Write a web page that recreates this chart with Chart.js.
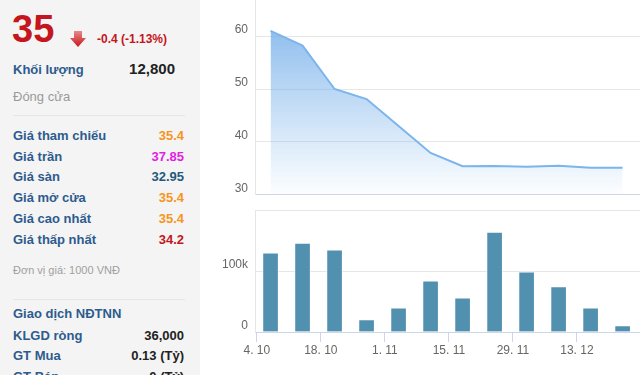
<!DOCTYPE html>
<html>
<head>
<meta charset="utf-8">
<script src="https://cdn.jsdelivr.net/npm/chart.js@4/dist/chart.umd.min.js"></script>
<style>
  html, body { margin: 0; padding: 0; }
  body { width: 640px; height: 375px; overflow: hidden; position: relative; background: #fff; font-family: "Liberation Sans", Arial, sans-serif; }
  #panel { position: absolute; left: 0; top: 0; width: 200px; height: 375px; background: #f4f4f4; }
  .t { position: absolute; white-space: nowrap; line-height: 16px; }
  .lbl { left: 13px; font-size: 13px; font-weight: bold; color: #2d5b8e; }
  .val { right: 16px; font-size: 13px; font-weight: bold; text-align: right; }
  .sep { position: absolute; left: 13px; width: 172px; height: 1px; background: #e6e6e6; }
  #cwrap1 { position: absolute; left: 200px; top: -31px; width: 440px; height: 240px; }
  #cwrap2 { position: absolute; left: 200px; top: 196px; width: 440px; height: 179px; }
</style>
</head>
<body>
<div id="panel">
  <div class="t" style="left:12px;top:10px;font-size:38px;line-height:38px;font-weight:bold;color:#c4161c;">35</div>
  <svg style="position:absolute;left:69px;top:30px" width="18" height="18" viewBox="0 0 18 18">
    <defs><linearGradient id="ag" x1="0" y1="0" x2="0" y2="1"><stop offset="0" stop-color="#e8888a"/><stop offset="1" stop-color="#c8151b"/></linearGradient></defs>
    <polygon points="5,1 13,1 13,8 17,8 9,17 1,8 5,8" fill="url(#ag)"/>
  </svg>
  <div class="t" style="left:97px;top:31px;font-size:12px;font-weight:bold;color:#c4161c;">-0.4 (-1.13%)</div>

  <div class="t lbl" style="top:62px;">Khối lượng</div>
  <div class="t" style="right:25px;top:61px;font-size:15px;font-weight:bold;color:#222;">12,800</div>
  <div class="t" style="left:13px;top:89px;font-size:13px;color:#9a9a9a;">Đóng cửa</div>
  <div class="sep" style="top:115px;"></div>

  <div class="t lbl" style="top:128px;">Giá tham chiếu</div>
  <div class="t val" style="top:128px;color:#f7941d;">35.4</div>
  <div class="t lbl" style="top:149px;">Giá trần</div>
  <div class="t val" style="top:149px;color:#e31ee3;">37.85</div>
  <div class="t lbl" style="top:169px;">Giá sàn</div>
  <div class="t val" style="top:169px;color:#1d5a7d;">32.95</div>
  <div class="t lbl" style="top:190px;">Giá mở cửa</div>
  <div class="t val" style="top:190px;color:#f7941d;">35.4</div>
  <div class="t lbl" style="top:211px;">Giá cao nhất</div>
  <div class="t val" style="top:211px;color:#f7941d;">35.4</div>
  <div class="t lbl" style="top:232px;">Giá thấp nhất</div>
  <div class="t val" style="top:232px;color:#c4161c;">34.2</div>
  <div class="t" style="left:13px;top:262px;font-size:11px;color:#a0a0a0;">Đơn vị giá: 1000 VNĐ</div>
  <div class="sep" style="top:299px;"></div>

  <div class="t lbl" style="top:306px;">Giao dịch NĐTNN</div>
  <div class="t lbl" style="top:328px;">KLGD ròng</div>
  <div class="t val" style="top:328px;color:#222;">36,000</div>
  <div class="t lbl" style="top:348px;">GT Mua</div>
  <div class="t val" style="top:348px;color:#222;">0.13 (Tỷ)</div>
  <div class="t lbl" style="top:369px;">GT Bán</div>
  <div class="t val" style="top:369px;color:#222;">0 (Tỷ)</div>
</div>

<div id="cwrap1"><canvas id="c1" width="440" height="240"></canvas></div>
<div id="cwrap2"><canvas id="c2" width="440" height="179"></canvas></div>

<script>
// ---- data ----
const dates = ['7/10','14/10','21/10','28/10','4/11','11/11','18/11','25/11','2/12','9/12','16/12','23/12'];
const closePrice = [61, 58.2, 50, 48.1, 43, 37.9, 35.4, 35.45, 35.3, 35.5, 35.1, 35.1];
const volume = [130000, 146000, 135000, 20500, 39700, 84000, 56000, 164000, 99000, 74500, 39700, 10600];
const tickDates = ['4/10','18/10','1/11','15/11','29/11','13/12'];
const tickLabels = ['4. 10','18. 10','1. 11','15. 11','29. 11','13. 12'];
const priceTicks = [30, 40, 50, 60, 70];
const volumeTicks = [0, 100000, 200000];

// day offset from 4 Oct
const monthStart = {10: 0, 11: 31, 12: 61};
function dayOf(s) { const [d, m] = s.split('/').map(Number); return monthStart[m] + d - 4; }

const xMin = -0.4, xMax = 83.8;
const fontSpec = { family: '"Liberation Sans", Arial, sans-serif', size: 12 };
const labelColor = '#666666';
const gridColor = '#e6e6e6';
const axisColor = '#ccd6eb';

const pricePts = dates.map((d, i) => ({ x: dayOf(d), y: closePrice[i] }));
const volPts = dates.map((d, i) => ({ x: dayOf(d), y: volume[i] }));

new Chart(document.getElementById('c1'), {
  type: 'line',
  data: { datasets: [{
    data: pricePts,
    borderColor: '#7cb5ec',
    borderWidth: 2,
    pointRadius: 0,
    tension: 0,
    fill: 'start',
    backgroundColor: (ctx) => {
      const a = ctx.chart.chartArea;
      if (!a) return 'rgba(124,181,236,0.5)';
      const g = ctx.chart.ctx.createLinearGradient(0, a.top, 0, a.bottom);
      g.addColorStop(0, 'rgba(110,170,232,1)');
      g.addColorStop(1, 'rgba(124,181,236,0.02)');
      return g;
    }
  }]},
  options: {
    responsive: false, animation: false,
    layout: { padding: { top: 0, right: 0, bottom: 1, left: 0 } },
    plugins: { legend: { display: false }, tooltip: { enabled: false } },
    scales: {
      x: {
        type: 'linear', min: xMin, max: xMax, offset: false,
        grid: { display: false },
        border: { display: true, color: axisColor, width: 1 },
        ticks: { display: false },
        afterFit: (s) => { s.height = 0; }
      },
      y: {
        min: 30, max: 70,
        afterBuildTicks: (s) => { s.ticks = priceTicks.map(v => ({ value: v })); },
        grid: { color: gridColor, drawTicks: false },
        border: { display: true, color: gridColor, width: 1 },
        ticks: { color: labelColor, font: fontSpec, padding: 7, labelOffset: -6 },
        afterFit: (s) => { s.width = 55; }
      }
    }
  }
});

new Chart(document.getElementById('c2'), {
  type: 'bar',
  data: { datasets: [{
    data: volPts,
    backgroundColor: '#5290b0',
    borderColor: 'rgba(255,255,255,0.55)',
    borderWidth: 1,
    barThickness: 16
  }]},
  options: {
    responsive: false, animation: false,
    layout: { padding: { top: 0, right: 0, bottom: 0, left: 0 } },
    plugins: { legend: { display: false }, tooltip: { enabled: false } },
    scales: {
      x: {
        type: 'linear', min: xMin, max: xMax, offset: false,
        afterBuildTicks: (s) => { s.ticks = tickDates.map(d => ({ value: dayOf(d) })); },
        grid: { drawOnChartArea: false, drawTicks: true, tickLength: 10, color: axisColor, offset: false },
        border: { display: true, color: axisColor, width: 1 },
        ticks: {
          color: labelColor, font: fontSpec, padding: 1, maxRotation: 0, autoSkip: false,
          callback: (v) => { const i = tickDates.findIndex(d => dayOf(d) === v); return i >= 0 ? tickLabels[i] : ''; }
        },
        afterFit: (s) => { s.height = 43; }
      },
      y: {
        min: 0, max: 200000,
        afterBuildTicks: (s) => { s.ticks = volumeTicks.map(v => ({ value: v })); },
        grid: { color: gridColor, drawTicks: false },
        border: { display: true, color: gridColor, width: 1 },
        ticks: {
          color: labelColor, font: fontSpec, padding: 7, labelOffset: -6,
          callback: (v) => v === 0 ? '0' : (v === 200000 ? '' : (v / 1000) + 'k')
        },
        afterFit: (s) => { s.width = 55; }
      }
    }
  }
});
</script>
</body>
</html>
